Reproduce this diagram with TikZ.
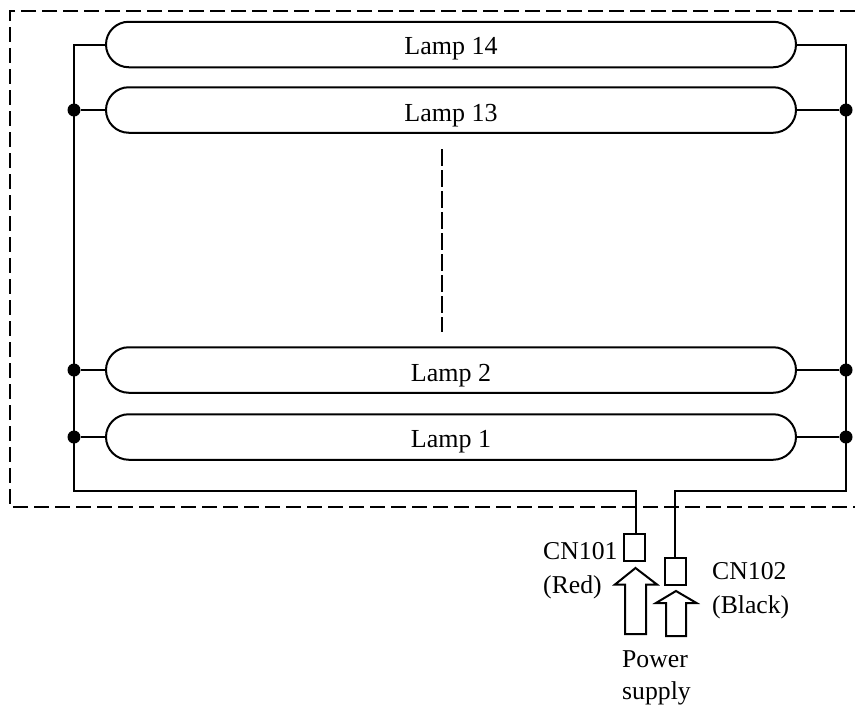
\documentclass[tikz,border=0pt]{standalone}
\usepackage{fontspec}
\setmainfont{Liberation Serif}
\usetikzlibrary{shapes.misc,shapes.arrows}
\tikzset{
  wire/.style={draw=black,line width=2pt},
  lamp/.style={rounded rectangle,draw=black,line width=2pt,minimum width=690pt,minimum height=45.5pt,inner sep=0pt,font=\fontsize{26}{30}\selectfont,anchor=center,text depth=0pt},
  jdot/.style={circle,fill=black,draw=none,minimum size=13pt,inner sep=0pt},
  conn/.style={rectangle,draw=black,line width=2pt,minimum width=20.5pt,minimum height=27pt,inner sep=0pt},
  label/.style={font=\fontsize{25.7}{34.5}\selectfont,inner sep=0pt,align=left},
  boundary/.style={draw=black,line width=2pt,dash pattern=on 15pt off 6pt},
  midline/.style={draw=black,line width=2pt,dash pattern=on 17pt off 4pt},
  feed/.style={draw=black,line width=2pt,fill=white,line join=miter}
}
\begin{document}
\begin{tikzpicture}[x=1pt,y=-1pt]
\useasboundingbox (0,0) rectangle (855,705);
\draw[boundary] (855,11) -- (10,11) -- (10,507) -- (855,507);
\node[lamp,text height=19pt] (l14) at (451,44.5) {Lamp 14};
\node[lamp,text height=22pt] (l13) at (451,110) {Lamp 13};
\node[lamp,text height=22pt] (l2) at (451,370) {Lamp 2};
\node[lamp,text height=21pt] (l1) at (451,437) {Lamp 1};
\coordinate (midtop) at (442,149);
\coordinate (midbot) at (442,332);
\draw[midline] (midtop) -- (midbot);
\node[jdot] (dl13) at (74,110) {};
\node[jdot] (dl2) at (74,370) {};
\node[jdot] (dl1) at (74,437) {};
\node[jdot] (dr13) at (846,110) {};
\node[jdot] (dr2) at (846,370) {};
\node[jdot] (dr1) at (846,437) {};
\node[conn] (cn1) at (634.5,547.5) {};
\node[conn] (cn2) at (675.5,571) {};
\draw[wire] (l14.west) -- (74,44.5) -- (dl13.center) -- (dl2.center) -- (dl1.center) -- (74,491) -- (636,491) -- (cn1.north -| 636,0);
\draw[wire] (l14.east) -- (846,44.5) -- (dr13.center) -- (dr2.center) -- (dr1.center) -- (846,491) -- (675,491) -- (cn2.north -| 675,0);
\draw[wire] (dl13) -- (l13.west);
\draw[wire] (dl2) -- (l2.west);
\draw[wire] (dl1) -- (l1.west);
\draw[wire] (dr13) -- (l13.east);
\draw[wire] (dr2) -- (l2.east);
\draw[wire] (dr1) -- (l1.east);
\draw[feed] (635.5,568) -- (657,584.5) -- (646,584.5) -- (646,634) -- (625,634) -- (625,584.5) -- (615,584.5) -- cycle;
\draw[feed] (676,591) -- (696.5,603) -- (686,603) -- (686,636) -- (666,636) -- (666,603) -- (656,603) -- cycle;
\node[label,anchor=north west] (t1) at (543,542) {CN101\\(Red)};
\node[label,anchor=north west] (t2) at (712,562) {CN102\\(Black)};
\node[label,anchor=north west,font=\fontsize{25.7}{32.5}\selectfont] (t3) at (622,650) {Power\\supply};
\end{tikzpicture}
\end{document}
